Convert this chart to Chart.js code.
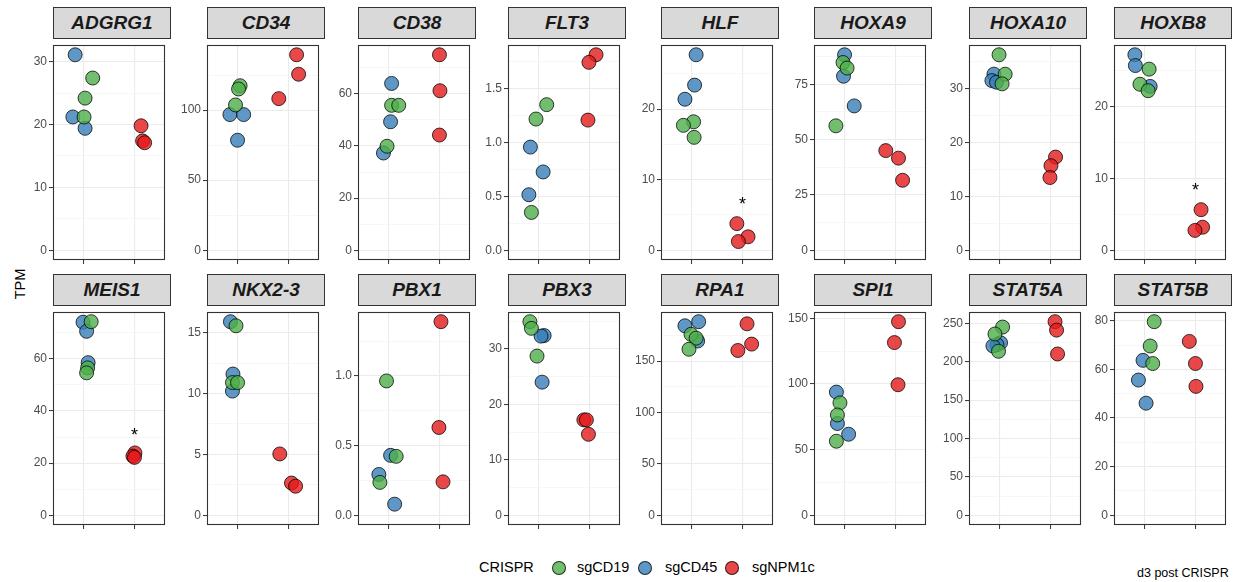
<!DOCTYPE html>
<html>
<head>
<meta charset="utf-8">
<script src="https://cdn.jsdelivr.net/npm/chart.js@4.4.1/dist/chart.umd.min.js"></script>
<style>
  body { margin:0; background:#fff; width:1236px; height:582px; position:relative; overflow:hidden;
         font-family:"Liberation Sans", Arial, Helvetica, sans-serif; }
  .strip { position:absolute; box-sizing:border-box; height:32px; background:#D9D9D9; border:1px solid #333;
           font-weight:bold; font-style:italic; font-size:19px; color:#1A1A1A; text-align:center; line-height:30px; }
  canvas { position:absolute; }
  .txt { position:absolute; white-space:nowrap; color:#000; }
  .dot { position:absolute; width:12px; height:12px; border-radius:50%; border:1px solid rgba(0,0,0,0.75); }
</style>
</head>
<body>
<div class="txt" style="left:8px; top:284px; font-size:14.5px; transform:translate(-50%,-50%) rotate(-90deg); transform-origin:center; left:20px;">TPM</div>
<div class="txt" style="left:479px; top:559px; font-size:14.5px;">CRISPR</div>
<div class="dot" style="left:552px; top:561px; background:rgba(77,175,74,0.8);"></div>
<div class="txt" style="left:577px; top:559px; font-size:14.5px;">sgCD19</div>
<div class="dot" style="left:638px; top:561px; background:rgba(55,126,184,0.8);"></div>
<div class="txt" style="left:665px; top:559px; font-size:14.5px;">sgCD45</div>
<div class="dot" style="left:725px; top:561px; background:rgba(228,26,28,0.8);"></div>
<div class="txt" style="left:752px; top:559px; font-size:14.5px;">sgNPM1c</div>
<div class="txt" style="left:1137px; top:566px; font-size:12.5px;">d3 post CRISPR</div>

<script>
// genes, in facet order (2 rows x 8)
const genes = ['ADGRG1','CD34','CD38','FLT3','HLF','HOXA9','HOXA10','HOXB8',
               'MEIS1','NKX2-3','PBX1','PBX3','RPA1','SPI1','STAT5A','STAT5B'];

// major tick step of each facet's y axis
const yStep = [10,50,20,0.5,10,25,10,10, 20,5,0.5,10,50,50,50,20];

// sgCD19 (green) TPM values and jittered x positions
const cd19Y = [[27.4,24.2,21.2],[117.4,115.1,103.7],[55.6,55.6,39.9],[1.348,1.215,0.35],
               [18.2,17.7,16.0],[84.8,82.3,56.2],[36.3,32.7,30.9],[25.2,23.1,22.2],
               [74.2,56.5,54.6],[15.56,10.9,10.9],[0.964,0.423,0.236],[34.9,33.7,28.7],
               [176,172.3,161.5],[85.6,76.4,56.4],[245,236,213.5],[79.6,69.6,62.4]];
const cd19X = [[1.18,1.03,1.01],[1.05,1.02,0.96],[1.06,1.2,0.97],[1.16,0.95,0.86],
               [1.04,0.84,1.05],[0.97,1.05,0.83],[0.99,1.11,1.05],[1.09,0.91,1.07],
               [1.15,1.08,1.06],[0.97,0.9,1.0],[0.96,1.15,0.83],[0.83,0.86,0.97],
               [0.99,1.09,0.95],[0.91,0.86,0.84],[1.06,0.91,0.98],[1.19,1.11,1.16]];

// sgCD45 (blue)
const cd45Y = [[31.1,21.2,19.4],[96.8,96.8,78.5],[64.0,49.3,37.3],[0.955,0.725,0.514],
               [27.7,23.4,21.4],[88.3,78.6,65.2],[32.7,31.5,31.2],[27.2,25.7,22.8],
               [74.0,70.5,58.5],[15.9,11.6,10.2],[0.43,0.293,0.08],[32.4,32.3,24.0],
               [188.3,184.3,169.5],[93.8,69.9,61.7],[224.5,222,220.4],[63.7,55.6,46.1]];
const cd45X = [[0.835,0.79,1.03],[0.85,1.12,1.0],[1.06,1.04,0.9],[0.84,1.09,0.81],
               [1.09,1.06,0.87],[1.0,0.98,1.19],[0.89,0.85,0.94],[0.81,0.82,1.11],
               [0.99,1.06,1.09],[0.86,0.91,0.9],[1.04,0.81,1.12],[1.11,1.05,1.07],
               [1.14,0.87,1.12],[0.84,0.86,1.08],[1.02,0.95,0.87],[0.97,0.88,1.03]];

// sgNPM1c (red)
const npmY = [[19.8,17.4,17.1],[139.5,125.6,108.2],[75.0,61.2,44.2],[1.81,1.74,1.205],
              [3.77,1.9,1.23],[45.0,41.6,31.6],[17.3,15.7,13.5],[5.64,3.2,2.76],
              [23.9,22.7,22.2],[5.04,2.65,2.39],[1.389,0.63,0.24],[17.2,17.2,14.6],
              [186.2,166.5,160.3],[147.4,131.5,99.4],[252,241,210],[71.5,62.4,53.0]];
const npmX = [[2.13,2.16,2.2],[2.16,2.2,1.81],[2.0,2.01,2.0],[2.13,1.99,1.97],
              [1.89,2.11,1.92],[1.81,2.06,2.14],[2.1,2.01,1.99],[2.11,2.14,1.99],
              [2.01,1.97,2.0],[1.83,2.06,2.14],[2.03,1.99,2.07],[1.89,1.94,1.98],
              [2.09,2.18,1.91],[2.06,1.98,2.05],[2.09,2.12,2.14],[1.88,2.0,2.01]];

// significance stars (y position), null = none
const starY = [null,null,null,null,7.0,null,null,8.8, 31.8,null,null,null,null,null,null,null];

// layout of the facet grid
const panelLeft = [53,207,358,508,661,814,969,1114];
const stripTop = [7,274];
const plotTop = [38,305];
const plotH = [225,223];
const panelW = 118;
const axisW = 50;

function isMajor(v, step) {
  return Math.abs(v / step - Math.round(v / step)) < 1e-6;
}
function pts(xs, ys) {
  return xs.map((x, i) => ({x: x, y: ys[i]}));
}

genes.forEach(function(gene, gi) {
  const row = gi < 8 ? 0 : 1;
  const col = gi % 8;
  const left = panelLeft[col];
  const step = yStep[gi];

  // strip header
  const strip = document.createElement('div');
  strip.className = 'strip';
  strip.style.left = left + 'px';
  strip.style.top = stripTop[row] + 'px';
  strip.style.width = panelW + 'px';
  strip.textContent = gene;
  document.body.appendChild(strip);

  // canvas, chart area lines up with the panel box
  const cv = document.createElement('canvas');
  cv.width = panelW + axisW + 2;
  cv.height = plotH[row] + 6;
  cv.style.left = (left - axisW) + 'px';
  cv.style.top = (plotTop[row] - 1) + 'px';
  document.body.appendChild(cv);

  const top = Math.max(...cd19Y[gi], ...cd45Y[gi], ...npmY[gi]);
  const yMin = -0.05 * top, yMax = 1.05 * top;

  const panelPlugin = {
    id: 'panel' + gi,
    afterDatasetsDraw(chart) {
      if (starY[gi] == null) return;
      const c = chart.ctx;
      c.save();
      c.fillStyle = '#000';
      c.font = '18px "Liberation Sans", Arial';
      c.textAlign = 'center';
      c.textBaseline = 'middle';
      c.fillText('*', chart.scales.x.getPixelForValue(2), chart.scales.y.getPixelForValue(starY[gi]) + 4);
      c.restore();
    },
    afterDraw(chart) {
      const a = chart.chartArea, c = chart.ctx;
      c.save();
      c.strokeStyle = '#333333';
      c.lineWidth = 1.1;
      c.strokeRect(Math.round(a.left) + 0.5, Math.round(a.top) + 0.5,
                   Math.round(a.right - a.left) - 1, Math.round(a.bottom - a.top) - 1);
      c.restore();
    }
  };

  const ds = (label, xs, ys, fill) => ({
    label: label,
    data: pts(xs[gi], ys[gi]),
    backgroundColor: fill,
    borderColor: 'rgba(0,0,0,0.75)',
    borderWidth: 1,
    pointRadius: 7,
    pointHoverRadius: 7
  });

  new Chart(cv, {
    type: 'scatter',
    data: {
      datasets: [
        ds('sgCD19', cd19X, cd19Y, 'rgba(77,175,74,0.8)'),
        ds('sgCD45', cd45X, cd45Y, 'rgba(55,126,184,0.8)'),
        ds('sgNPM1c', npmX, npmY, 'rgba(228,26,28,0.8)')
      ]
    },
    options: {
      responsive: false,
      animation: false,
      devicePixelRatio: 1,
      layout: { padding: { top: 1, right: 2, left: 0, bottom: 0 } },
      plugins: { legend: { display: false }, tooltip: { enabled: false } },
      scales: {
        x: {
          type: 'linear', min: 0.4, max: 2.6,
          afterBuildTicks(scale) { scale.ticks = [{value: 1}, {value: 2}]; },
          afterFit(scale) { scale.height = 5; scale.paddingLeft = 0; scale.paddingRight = 0; },
          ticks: { display: false },
          border: { display: false },
          grid: { color: '#EBEBEB', lineWidth: 1.1, tickColor: '#333333', tickLength: 4, tickWidth: 1 }
        },
        y: {
          type: 'linear', min: yMin, max: yMax,
          afterBuildTicks(scale) {
            const half = step / 2, t = [];
            for (let k = Math.ceil(yMin / half - 1e-9); k * half <= yMax + 1e-9; k++) {
              t.push({value: +(k * half).toFixed(6)});
            }
            scale.ticks = t;
          },
          afterFit(scale) { scale.width = axisW; scale.paddingTop = 0; scale.paddingBottom = 0; },
          border: { display: false },
          ticks: {
            color: '#4D4D4D',
            font: { family: '"Liberation Sans", Arial', size: 12 },
            padding: 2,
            callback: (v) => isMajor(v, step) ? (step < 1 ? v.toFixed(1) : String(v)) : ''
          },
          grid: {
            color: (ctx) => isMajor(ctx.tick.value, step) ? '#EBEBEB' : '#F3F3F3',
            lineWidth: (ctx) => isMajor(ctx.tick.value, step) ? 1.1 : 0.7,
            tickColor: (ctx) => isMajor(ctx.tick.value, step) ? '#333333' : 'rgba(0,0,0,0)',
            tickLength: 4,
            tickWidth: 1
          }
        }
      }
    },
    plugins: [panelPlugin]
  });
});
</script>
</body>
</html>
